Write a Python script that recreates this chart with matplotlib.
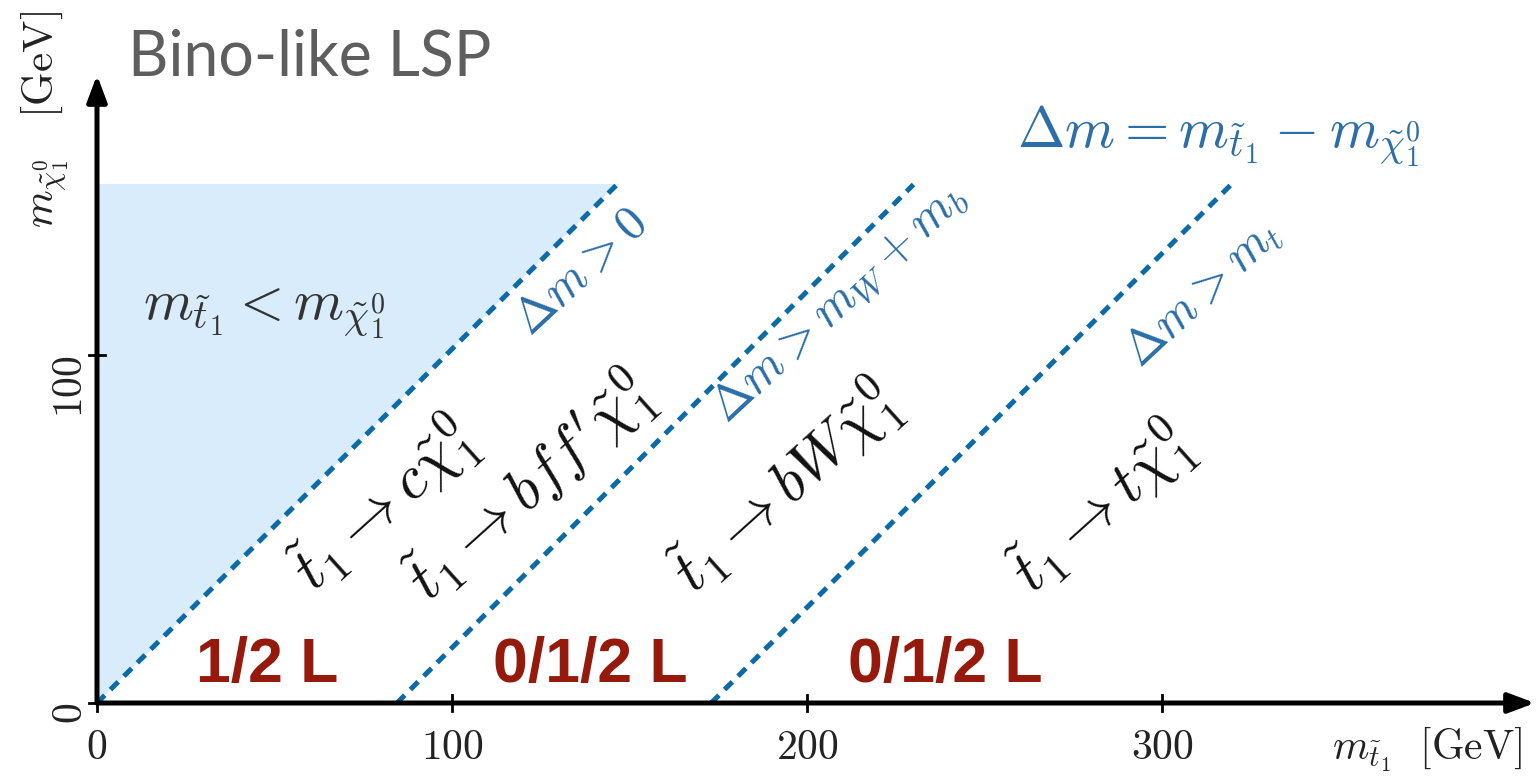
import matplotlib.pyplot as plt
import numpy as np

plt.rcParams['mathtext.fontset'] = 'cm'
plt.rcParams['font.family'] = 'DejaVu Sans'

# mass splittings where each decay mode opens (GeV) and where the drawn lines end
thresholds = [0.0, 84.5, 173.0]
line_x_end = [146.5, 230.0, 319.5]
y_top = 149.0
threshold_labels = [r'$\Delta m > 0$', r'$\Delta m > m_W + m_b$', r'$\Delta m > m_t$']

decays = [r'$\tilde{t}_1 \rightarrow c\tilde{\chi}_1^0$',
          r"$\tilde{t}_1 \rightarrow bff'\tilde{\chi}_1^0$",
          r'$\tilde{t}_1 \rightarrow bW\tilde{\chi}_1^0$',
          r'$\tilde{t}_1 \rightarrow t\tilde{\chi}_1^0$']
decay_pos = [(81, 57), (122, 62), (194, 62), (283, 56)]

lepton_labels = ['1/2 L', '0/1/2 L', '0/1/2 L']
lepton_x = [48, 139, 239]

xticks = [0, 100, 200, 300]
yticks = [0, 100]

blue = '#0b6aa8'
text_blue = '#2b6ea8'
dark_red = '#951a0c'

W, H = 1537, 777
fig = plt.figure(figsize=(W / 100, H / 100), dpi=100)
px_x, px_y = 3.55, 3.48  # pixels per GeV
x0, y0 = 97, 703
ax = fig.add_axes([x0 / W, (H - y0) / H, (W - x0) / W, y0 / H])
ax.set_xlim(0, (W - x0) / px_x)
ax.set_ylim(0, y0 / px_y)
ax.axis('off')

# forbidden region
ax.fill([0, 0, line_x_end[0]], [0, y_top, y_top], color='#d8ecfb', lw=0, zorder=0)

# threshold lines
for dm, xe in zip(thresholds, line_x_end):
    ax.plot([dm, xe], [0, y_top], ls=(0, (2.2, 1.6)), lw=3.6,
            color=blue, clip_on=False, zorder=2)
lab_pos = [(136, 124), (209, 115), (311, 118)]
for (lx, ly), lab in zip(lab_pos, threshold_labels):
    ax.text(lx, ly, lab, fontsize=35, color=text_blue, rotation=43,
            ha='center', va='center', rotation_mode='anchor')

# decay modes
for (dx, dy), lab in zip(decay_pos, decays):
    ax.text(dx, dy, lab, fontsize=44, color='#111111', rotation=42,
            ha='center', va='center', rotation_mode='anchor')

for lx, lab in zip(lepton_x, lepton_labels):
    ax.text(lx, 2.3, lab, fontsize=45, color=dark_red, fontweight='bold',
            family='Liberation Sans', ha='center', va='bottom')

ax.text(47, 112, r'$m_{\tilde{t}_1} < m_{\tilde{\chi}_1^0}$', fontsize=41,
        color='#333333', ha='center', va='center')
ax.text(316, 163, r'$\Delta m = m_{\tilde{t}_1} - m_{\tilde{\chi}_1^0}$',
        fontsize=41, color=text_blue, ha='center', va='center')

# axes with arrows
xmax = (W - 2 - x0) / px_x
ymax = (y0 - 75) / px_y
for tip in [(xmax, 0), (0, ymax)]:
    ax.annotate('', xy=tip, xytext=(0, 0),
                arrowprops=dict(arrowstyle='-|>,head_length=1.6,head_width=0.6',
                                lw=3.6, color='black', shrinkA=0, shrinkB=0),
                annotation_clip=False)

for t in xticks:
    ax.plot([t, t], [-2.2, 2.2], color='black', lw=2, clip_on=False)
    ax.text(t, -6.5, f'${t}$', fontsize=30, ha='center', va='top',
            color='#222222')
for t in yticks:
    ax.plot([-2.2, 2.2], [t, t], color='black', lw=2, clip_on=False)
    ax.text(-7.5, t, f'${t}$', fontsize=30, ha='right', va='center',
            rotation=90, rotation_mode='anchor', color='#222222')

fig.text(1427 / W, 1 - 750 / H, r'$m_{\tilde{t}_1}\ \ \mathrm{[GeV]}$', fontsize=30,
         ha='center', va='center', color='#222222')
fig.text(45 / W, 1 - 120 / H, r'$m_{\tilde{\chi}_1^0}\ \ \ \mathrm{[GeV]}$', fontsize=31,
         ha='center', va='center', rotation=90, color='#222222')

fig.text(128 / W, 1 - 75 / H, 'Bino-like LSP', fontsize=45, color='#5e5e5e',
         family='Lato', ha='left', va='baseline')

fig.savefig('out.png', dpi=100)
